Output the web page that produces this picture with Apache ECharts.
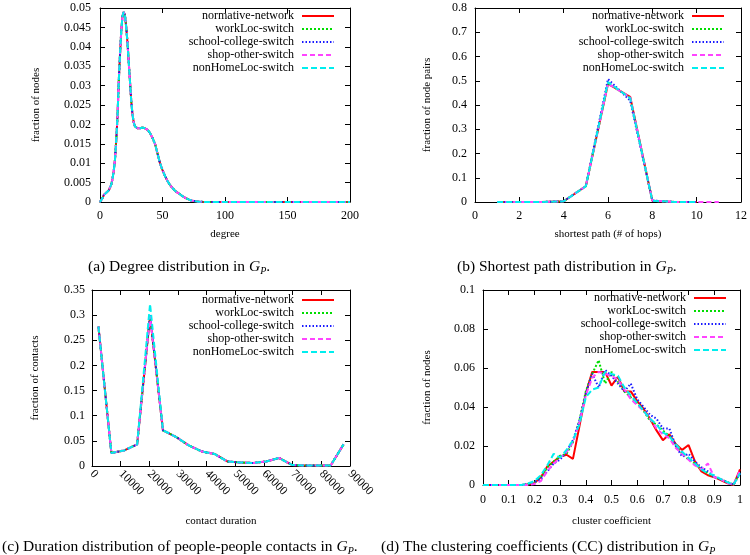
<!DOCTYPE html>
<html><head><meta charset="utf-8">
<script src="https://cdn.jsdelivr.net/npm/echarts@6/dist/echarts.min.js"></script>
<style>html,body{margin:0;padding:0;background:#fff}#c{width:750px;height:555px}</style>
</head><body><div id="c"></div>
<script>
const seriesNames = ['normative-network','workLoc-switch','school-college-switch','shop-other-switch','nonHomeLoc-switch'];

// (a) degree distribution
const degreeX = [0,1,2,3,4,5,6,7,8,9,10,11,12,13,14,15,16,17,18,19,20,21,22,23,24,25,26,27,28,29,30,32,34,36,38,40,42,44,46,48,50,52,54,56,58,60,62,64,66,68,70,72,74,76,78,80,85,90,100,120,150,200];
const degreeFrac = [0,0.0003,0.001,0.0018,0.0022,0.0024,0.0027,0.003,0.0035,0.0045,0.006,0.008,0.011,0.016,0.022,0.031,0.038,0.044,0.048,0.049,0.048,0.045,0.041,0.036,0.031,0.026,0.0225,0.0205,0.0195,0.0192,0.019,0.019,0.0192,0.019,0.0186,0.0178,0.0165,0.015,0.0125,0.010,0.0082,0.0067,0.0054,0.0044,0.0036,0.0029,0.0024,0.002,0.0015,0.0011,0.0008,0.0005,0.0003,0.0002,0.0001,0.00005,0.00002,0,0,0,0,0];

// (b) shortest path distribution
const hopsX = [1,2,3,4,5,6,7,8,9,10,11];
const hopsNormative = [0,0,0,0.003,0.065,0.487,0.434,0.005,0.0003,0];
const hopsWorkLoc   = [0,0,0,0.003,0.065,0.490,0.430,0.005,0.0003,0];
const hopsSchool    = [0,0,0,0.003,0.066,0.507,0.418,0.006,0.0003,0];
const hopsShop      = [0,0,0,0.003,0.065,0.488,0.432,0.006,0.0004,0.0001,0];
const hopsNonHome   = [0,0,0,0.003,0.065,0.495,0.428,0.005,0.0003,0];

// (c) contact duration distribution
const durX = [2250,6750,11250,15750,20250,24750,29250,33750,38250,42750,47250,51750,56250,60750,65250,69750,74250,78750,83250,87750];
const durNormative = [0.277,0.026,0.031,0.043,0.298,0.071,0.058,0.041,0.029,0.024,0.009,0.007,0.006,0.009,0.016,0.002,0.001,0.001,0.001,0.043];
const durWorkLoc   = [0.277,0.026,0.031,0.043,0.300,0.071,0.058,0.041,0.029,0.024,0.009,0.007,0.006,0.009,0.016,0.002,0.001,0.001,0.001,0.043];
const durSchool    = [0.277,0.026,0.031,0.043,0.300,0.071,0.058,0.041,0.029,0.024,0.009,0.007,0.006,0.009,0.016,0.002,0.001,0.001,0.001,0.043];
const durShop      = [0.277,0.026,0.031,0.043,0.298,0.071,0.058,0.041,0.029,0.024,0.009,0.007,0.006,0.009,0.016,0.002,0.001,0.001,0.001,0.043];
const durNonHome   = [0.277,0.026,0.031,0.043,0.322,0.071,0.058,0.041,0.029,0.024,0.009,0.007,0.006,0.009,0.016,0.002,0.001,0.001,0.001,0.043];

// (d) clustering coefficient distribution
const ccX = [0,0.025,0.05,0.075,0.1,0.125,0.15,0.175,0.2,0.225,0.25,0.275,0.3,0.325,0.35,0.375,0.4,0.425,0.45,0.475,0.5,0.525,0.55,0.575,0.6,0.625,0.65,0.675,0.7,0.725,0.75,0.775,0.8,0.825,0.85,0.875,0.9,0.925,0.95,0.975,1.0];
const ccNormative = [0,0,0,0,0,0,0,0.0002,0.001,0.004,0.0095,0.012,0.0145,0.0155,0.0134,0.030,0.047,0.058,0.058,0.058,0.051,0.0555,0.048,0.048,0.043,0.039,0.034,0.028,0.023,0.026,0.021,0.018,0.0205,0.012,0.007,0.005,0.004,0.0025,0.001,0,0.008];
const ccWorkLoc   = [0,0,0,0,0,0,0,0.0003,0.0012,0.004,0.009,0.012,0.015,0.016,0.022,0.033,0.048,0.057,0.064,0.052,0.058,0.053,0.048,0.045,0.042,0.038,0.033,0.031,0.028,0.025,0.020,0.016,0.013,0.011,0.008,0.006,0.004,0.003,0.0015,0.0003,0.006];
const ccSchool    = [0,0,0,0,0,0,0,0.0005,0.0015,0.003,0.007,0.011,0.013,0.017,0.023,0.033,0.047,0.057,0.050,0.059,0.056,0.052,0.048,0.052,0.044,0.040,0.036,0.034,0.029,0.029,0.020,0.0145,0.016,0.012,0.009,0.007,0.004,0.003,0.0015,0.0002,0.006];
const ccShop      = [0,0,0,0,0,0,0,0,0.0005,0.002,0.007,0.011,0.014,0.017,0.022,0.032,0.046,0.055,0.058,0.057,0.056,0.054,0.049,0.044,0.041,0.038,0.034,0.029,0.026,0.024,0.019,0.016,0.013,0.010,0.008,0.011,0.004,0.003,0.001,0.0002,0.0075];
const ccNonHome   = [0,0,0,0,0,0,0,0.0008,0.002,0.005,0.010,0.016,0.014,0.018,0.023,0.031,0.045,0.049,0.050,0.058,0.057,0.056,0.050,0.046,0.042,0.038,0.034,0.031,0.027,0.025,0.021,0.017,0.014,0.011,0.008,0.006,0.005,0.003,0.0015,0.0002,0.006];

const FONT = 'Liberation Serif';
const lineStyles = [
  {color:'#ff0000', type:'solid', width:2},
  {color:'#00dd00', type:[2,2], width:2},
  {color:'#1a1aff', type:[1.5,2], width:2},
  {color:'#ff44ff', type:[5,3], width:2},
  {color:'#00eeee', type:[6,3], width:2}
];

const grids = [
  {left:100, top:8, width:250, height:194},
  {left:475, top:8, width:266, height:194},
  {left:92, top:290, width:258, height:176},
  {left:483, top:290, width:257, height:195}
].map(g => Object.assign({show:false, outerBoundsMode:'none', containLabel:false}, g));

const axisCommon = {
  type:'value',
  axisLine:{show:true, onZero:false, lineStyle:{color:'#000', width:1}},
  axisTick:{show:true, inside:true, length:5, lineStyle:{color:'#000', width:1}},
  splitLine:{show:false},
  nameTextStyle:{fontFamily:FONT, fontSize:11, color:'#000'},
  nameLocation:'middle'
};
const labelCommon = {color:'#000', fontFamily:FONT, fontSize:12};

const xSpec = [
  {min:0, max:200, interval:50, name:'degree', nameGap:27, margin:8},
  {min:0, max:12, interval:2, name:'shortest path (# of hops)', nameGap:27, margin:8},
  {min:0, max:90000, interval:10000, name:'contact duration', nameGap:50, margin:6, rotate:-45},
  {min:0, max:1, interval:0.1, name:'cluster coefficient', nameGap:31, margin:9}
];
const ySpec = [
  {min:0, max:0.05, interval:0.005, name:'fraction of nodes', nameGap:58, margin:9},
  {min:0, max:0.8, interval:0.1, name:'fraction of node pairs', nameGap:42, margin:8},
  {min:0, max:0.35, interval:0.05, name:'fraction of contacts', nameGap:51, margin:7},
  {min:0, max:0.1, interval:0.02, name:'fraction of nodes', nameGap:50, margin:8}
];

const xAxes = [], yAxes = [];
xSpec.forEach((s, g) => xAxes.push(Object.assign({}, axisCommon, {
  gridIndex:g, position:'bottom', min:s.min, max:s.max, interval:s.interval, name:s.name, nameGap:s.nameGap,
  axisLabel:Object.assign({}, labelCommon, {margin:s.margin, rotate:s.rotate || 0, formatter:v => String(+v.toFixed(6))})
})));
xSpec.forEach((s, g) => xAxes.push(Object.assign({}, axisCommon, {
  gridIndex:g, position:'top', min:s.min, max:s.max, interval:s.interval, name:'',
  axisLabel:{show:false}
})));
ySpec.forEach((s, g) => yAxes.push(Object.assign({}, axisCommon, {
  gridIndex:g, position:'left', min:s.min, max:s.max, interval:s.interval, name:s.name, nameGap:s.nameGap,
  axisLabel:Object.assign({}, labelCommon, {margin:s.margin, formatter:v => String(+v.toFixed(6))})
})));
ySpec.forEach((s, g) => yAxes.push(Object.assign({}, axisCommon, {
  gridIndex:g, position:'right', min:s.min, max:s.max, interval:s.interval, name:'',
  axisLabel:{show:false}
})));

function pairs(xs, ys) { return ys.map((y, i) => [xs[i], y]); }

const panelData = [
  [degreeX, [degreeFrac, degreeFrac, degreeFrac, degreeFrac, degreeFrac]],
  [hopsX, [hopsNormative, hopsWorkLoc, hopsSchool, hopsShop, hopsNonHome]],
  [durX, [durNormative, durWorkLoc, durSchool, durShop, durNonHome]],
  [ccX, [ccNormative, ccWorkLoc, ccSchool, ccShop, ccNonHome]]
];

const series = [];
panelData.forEach(([xs, sets], g) => {
  sets.forEach((ys, k) => {
    series.push({
      type:'line', name:seriesNames[k], xAxisIndex:g, yAxisIndex:g,
      data:pairs(xs, ys), symbol:'none', showSymbol:false,
      color:lineStyles[k].color,
      lineStyle:lineStyles[k], z:2 + k, clip:true
    });
  });
});

const legendPos = [
  {right:415, top:10},
  {right:25, top:10},
  {right:415, top:294},
  {right:23, top:292}
];
const legends = legendPos.map(p => Object.assign({
  data:seriesNames, orient:'vertical', align:'right', itemWidth:32, itemHeight:8, itemGap:1,
  padding:0, selectedMode:false,
  itemStyle:{color:'rgba(0,0,0,0)', borderWidth:0, opacity:0},
  textStyle:{fontFamily:FONT, fontSize:12, color:'#000', lineHeight:12, padding:[0,3,0,0]}
}, p));

const capRich = {
  i:{fontFamily:FONT, fontSize:15.5, fontStyle:'italic', color:'#000', lineHeight:18},
  s:{fontFamily:FONT, fontSize:10, fontStyle:'italic', color:'#000', lineHeight:10, verticalAlign:'bottom'}
};
function caption(x, y, txt) {
  return {type:'text', x:x, y:y, style:{text:txt, rich:capRich, fontFamily:FONT, fontSize:15.5, fill:'#000', lineHeight:18, align:'left', verticalAlign:'middle'}};
}

const chart = echarts.init(document.getElementById('c'), null, {renderer:'canvas'});
chart.setOption({
  animation:false,
  backgroundColor:'#fff',
  grid:grids,
  xAxis:xAxes,
  yAxis:yAxes,
  legend:legends,
  series:series,
  graphic:[
    caption(88, 267, '(a) Degree distribution in {i|G}{s|P}.'),
    caption(457, 267, '(b) Shortest path distribution in {i|G}{s|P}.'),
    caption(2, 547, '(c) Duration distribution of people-people contacts in {i|G}{s|P}.'),
    caption(381, 547, '(d) The clustering coefficients (CC) distribution in {i|G}{s|P}')
  ]
});
</script></body></html>
